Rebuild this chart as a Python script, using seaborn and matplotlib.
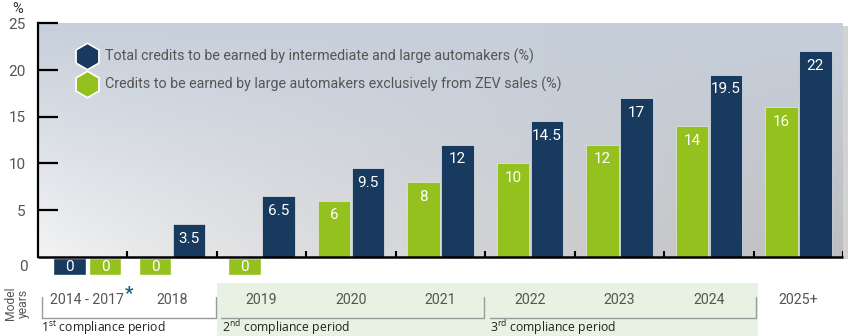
import numpy as np
import pandas as pd
import matplotlib
matplotlib.use("Agg")
import matplotlib.pyplot as plt
import seaborn as sns
from matplotlib.transforms import blended_transform_factory
from matplotlib.patches import Rectangle

# ---------------- data ----------------
categories = ["2014 - 2017", "2018", "2019", "2020", "2021", "2022", "2023", "2024", "2025+"]
total_credits = [0, 3.5, 6.5, 9.5, 12, 14.5, 17, 19.5, 22]
zev_credits = [0, 0, 0, 6, 8, 10, 12, 14, 16]
series_names = ["Total credits to be earned by intermediate and large automakers (%)",
                "Credits to be earned by large automakers exclusively from ZEV sales (%)"]
y_ticks = [5, 10, 15, 20, 25]
period_labels = [("1", "st"), ("2", "nd"), ("3", "rd")]

NAVY = "#173a5e"
GREEN = "#95c11f"
GRAY_TXT = "#555555"

sns.set_theme(style="white")
COND = "Roboto"
plt.rcParams["font.family"] = [COND, "DejaVu Sans"]
plt.rcParams["mathtext.fontset"] = "custom"
plt.rcParams["mathtext.rm"] = "Open Sans"

W, H = 850, 336
fig = plt.figure(figsize=(8.5, 3.36), dpi=100)
fig.patch.set_facecolor("white")

def fx(px):
    return px / W

def fy(py):
    return 1 - py / H

# plot frame in pixels
X0, X1 = 38, 843
Y25, Y0 = 23.4, 256.7
unit = (Y0 - Y25) / 25.0
ymin = -2.6
ybot = Y0 - ymin * unit
ax = fig.add_axes([fx(X0), fy(ybot), fx(X1) - fx(X0), fy(Y25) - fy(ybot)])
ax.set_facecolor("none")
ax.set_xlim(0, 9)
ax.set_ylim(ymin, 25)

# ---------------- background gradient ----------------
gh, gw = 120, 240
xx = np.linspace(0, 1, gw)[None, :]
yy = np.linspace(0, 1, gh)[:, None]  # 0 top -> 1 bottom
top = np.array([0xc6, 0xcf, 0xdb]) / 255
bl = np.array([0xf4, 0xf4, 0xf5]) / 255
br = np.array([0xbe, 0xbe, 0xc0]) / 255
t = xx ** 0.8
bottom = bl[None, None, :] * (1 - t[..., None]) + br[None, None, :] * t[..., None]
s = (yy ** 1.0)[..., None]
grad = top[None, None, :] * (1 - s) + bottom * s
ax.imshow(grad, extent=(0, 9, 0, 25), aspect="auto", origin="upper", zorder=0,
          interpolation="bilinear")
# drop shadow to the right
ax.add_patch(Rectangle((9, -0.25), 5 / 89.4, 25.0, color="#b5b5b5", alpha=0.6,
                       zorder=0, clip_on=False, lw=0))

# ---------------- bars ----------------
n = len(categories)
idx = np.arange(n, dtype=float)
green_off = np.full(n, 0.31)
navy_off = np.full(n, 0.69)
navy_off[0] = 0.353
green_off[0] = 0.75
bar_w = 0.364

df = pd.DataFrame({
    "pos": np.concatenate([idx + navy_off, idx + green_off]),
    "value": total_credits + zev_credits,
    "series": [series_names[0]] * n + [series_names[1]] * n,
})
min_gap = np.min(np.diff(np.unique(df["pos"])))
sns.barplot(data=df, x="pos", y="value", hue="series", hue_order=series_names,
            palette=[NAVY, GREEN], saturation=1, native_scale=True,
            width=bar_w / min_gap, dodge=False, errorbar=None, legend=False, ax=ax,
            edgecolor="#e4e7eb", linewidth=0.5, zorder=3)

colors = {series_names[0]: NAVY, series_names[1]: GREEN}
for _, r in df.iterrows():
    if r["value"] == 0:
        ax.bar(r["pos"], -1.8, bottom=-0.17, width=bar_w, color=colors[r["series"]],
               zorder=3, clip_on=False)
        ax.text(r["pos"], -1.07, "0", ha="center", va="center", color="white",
                fontsize=11, zorder=4)
    else:
        ax.annotate(f"{r['value']:g}", (r["pos"], r["value"]), xytext=(0, -10.5),
                    textcoords="offset points", ha="center", va="center",
                    color="white", fontsize=11, zorder=4)

# ---------------- axes styling ----------------
for sp in ["top", "right", "bottom"]:
    ax.spines[sp].set_visible(False)
ax.spines["left"].set_bounds(0, 25)
ax.spines["left"].set_linewidth(1.6)
ax.spines["left"].set_color("black")
ax.set_xticks([])
ax.set_xlabel("")
ax.set_ylabel("")
ax.set_yticks(y_ticks)
ax.set_yticklabels([str(v) for v in y_ticks])
ax.tick_params(axis="y", direction="in", length=14.5, width=1.6, color="black",
               pad=9, labelsize=11, labelcolor=GRAY_TXT, left=True)
ax.plot([0, 9], [0, 0], color="black", lw=1.8, solid_capstyle="butt", zorder=5,
        clip_on=False)
ax.vlines(np.arange(1, n + 1), 0, 0.65, color="black", lw=1.5, zorder=5)
ax.text(-9 / 89.4 * 1.0 - 0.01, -1.1, "0", ha="right", va="center", color=GRAY_TXT,
        fontsize=11)
fig.text(fx(18), fy(9), "%", ha="center", va="center", color="#333333", fontsize=10.5)

# ---------------- legend ----------------
for i, (name, col) in enumerate(zip(series_names, [NAVY, GREEN])):
    yc = [56, 84][i]
    fig.lines.append(plt.Line2D([fx(87)], [fy(yc)], marker="h", markersize=19,
                                markerfacecolor=col, markeredgecolor="white",
                                markeredgewidth=1.2, linestyle="none",
                                transform=fig.transFigure, figure=fig))
    fig.text(fx(105), fy(yc), name, ha="left", va="center", color=GRAY_TXT,
             fontsize=10.3)

# ---------------- model years strip ----------------
bt = blended_transform_factory(ax.transData, fig.transFigure)
ax.add_patch(Rectangle((2.0, 0), 8.05 - 2.0, fy(283), transform=bt,
                       color="#e8f2e3", lw=0, zorder=0, clip_on=False))

ylab = fy(300)
for i, cat in enumerate(categories):
    xc = i + 0.5 if i > 0 else 0.55
    t_ = ax.text(xc, ylab, cat, transform=bt, ha="center", va="center",
                 color=GRAY_TXT, fontsize=10.2)
    if i == 0:
        fig.canvas.draw()
        bb = t_.get_window_extent()
        fig.text(bb.x1 / W + 0.001, fy(294), "*", ha="left", va="center",
                 color="#1f5f8b", fontsize=13.5, fontweight="bold")

fig.text(fx(17), fy(303), "Model\nyears", rotation=90, ha="center", va="center",
         color=GRAY_TXT, fontsize=8.7, linespacing=0.95, multialignment="center")

# brackets (x in pixels converted to data units)
def dx(px):
    return (px - X0) / ((X1 - X0) / 9)

br_col = "#9a9a9a"
brackets = [(42, 216, True), (221, 484, False), (490, 756, False)]
for x_a, x_b, left_tick in brackets:
    ax.plot([dx(x_a), dx(x_b)], [fy(318), fy(318)], transform=bt, color=br_col,
            lw=1, clip_on=False)
    ax.plot([dx(x_b), dx(x_b)], [fy(297), fy(318)], transform=bt, color=br_col,
            lw=1, clip_on=False)
    if left_tick:
        ax.plot([dx(x_a), dx(x_a)], [fy(297), fy(318)], transform=bt, color=br_col,
                lw=1, clip_on=False)

for (num, sup), xs in zip(period_labels, [41, 222, 490]):
    fig.text(fx(xs), fy(328), f"{num}$^{{\\mathrm{{{sup}}}}}$ compliance period",
             ha="left", va="center", color="#222222", fontsize=8.8,
             family="Open Sans")

fig.savefig("out.png", dpi=100, facecolor="white")
